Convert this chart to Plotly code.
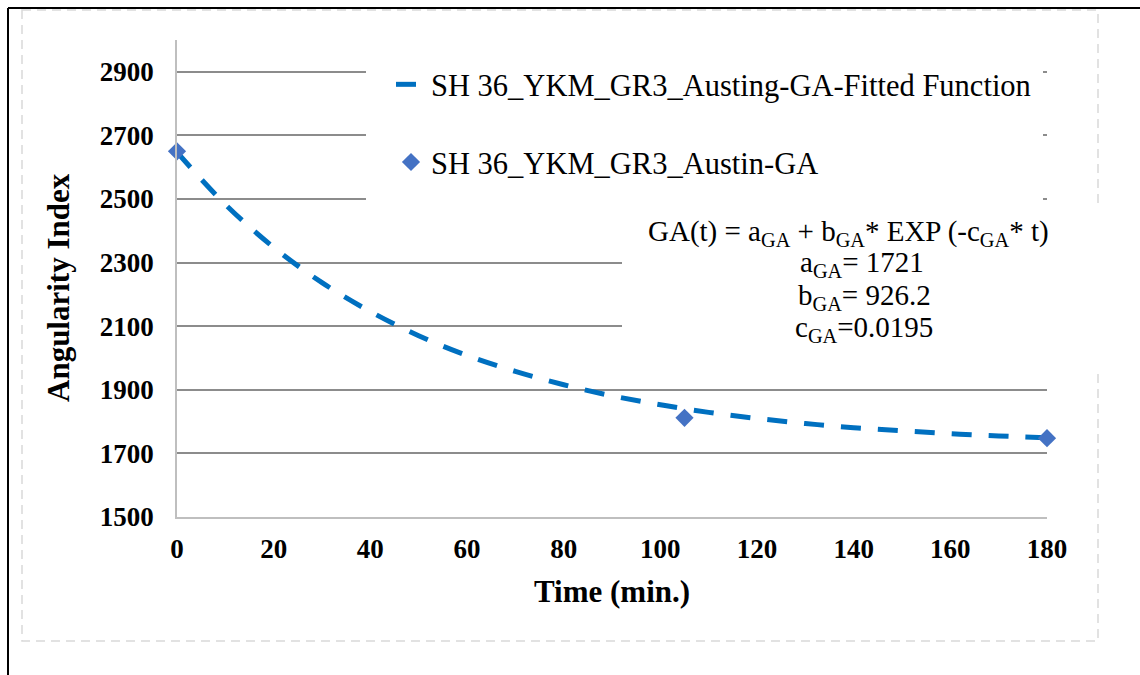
import plotly.graph_objects as go

# Measured angularity index (GA) of the aggregate sample
time_measured = [0, 105, 180]
ga_measured = [2650, 1812, 1748]

# Fitted decay curve GA(t) = a + b * exp(-c * t), sampled every 10 minutes
time_fitted = [0, 10, 20, 30, 40, 50, 60, 70, 80, 90, 100, 110, 120, 130, 140, 150, 160, 170, 180]
ga_fitted = [2647, 2483, 2348, 2237, 2146, 2070, 2008, 1958, 1916, 1881, 1853,
             1829, 1810, 1794, 1781, 1771, 1762, 1755, 1749]

x_ticks = [0, 20, 40, 60, 80, 100, 120, 140, 160, 180]
y_ticks = [1500, 1700, 1900, 2100, 2300, 2500, 2700, 2900]

fit_name = "SH 36_YKM_GR3_Austing-GA-Fitted Function"
meas_name = "SH 36_YKM_GR3_Austin-GA"
equation_lines = [
    "GA(t) = a<sub>GA</sub> + b<sub>GA</sub>* EXP (-c<sub>GA</sub>* t)",
    "a<sub>GA</sub>= 1721",
    "b<sub>GA</sub>= 926.2",
    "c<sub>GA</sub>=0.0195",
]
x_title = "Time (min.)"
y_title = "Angularity Index"

W, H = 1140, 675
ML, MR, MT, MB = 177, 93, 40, 158
PW, PH = W - ML - MR, H - MT - MB


def fx(p):
    """Pixel column -> paper x."""
    return (p - ML) / PW


def fy(p):
    """Pixel row -> paper y."""
    return (H - MB - p) / PH


SERIF = "Liberation Serif"

fig = go.Figure()
fig.add_trace(go.Scatter(
    x=time_fitted, y=ga_fitted, mode="lines", name=fit_name,
    legendgroup="fit",
    line=dict(color="#0070C0", width=5, dash="20px,17px", shape="spline"),
))
fig.add_trace(go.Scatter(
    x=time_measured, y=ga_measured, mode="markers", name=meas_name,
    legendgroup="meas",
    marker=dict(symbol="diamond", size=14, color="#4472C4"),
    cliponaxis=False,
))

shapes = [
    # outer black frame edges
    dict(type="line", xref="paper", yref="paper", x0=fx(8), x1=fx(8), y0=fy(8), y1=fy(675),
         line=dict(color="black", width=2)),
    dict(type="line", xref="paper", yref="paper", x0=fx(8), x1=fx(1140), y0=fy(8), y1=fy(8),
         line=dict(color="black", width=2)),
    # dashed chart-area border
    dict(type="rect", xref="paper", yref="paper", x0=fx(22), x1=fx(1098), y0=fy(10), y1=fy(641),
         line=dict(color="#d9d9d9", width=1.5, dash="9px,6px"), fillcolor="rgba(0,0,0,0)"),
    # white backgrounds behind legend and equation
    dict(type="rect", xref="paper", yref="paper", x0=fx(366), x1=fx(1043), y0=fy(38), y1=fy(205),
         line=dict(width=0), fillcolor="white"),
    dict(type="rect", xref="paper", yref="paper", x0=fx(622), x1=fx(1128), y0=fy(205), y1=fy(372),
         line=dict(width=0), fillcolor="white"),
]

# equation block, one annotation per line
eq_centers_x = [848, 862, 864, 864]
eq_centers_y = [233, 264, 297, 329]
annotations = [
    dict(text=txt, xref="paper", yref="paper", x=fx(cx), y=fy(cy),
         xanchor="center", yanchor="middle", showarrow=False,
         font=dict(family=SERIF, size=29, color="black"))
    for txt, cx, cy in zip(equation_lines, eq_centers_x, eq_centers_y)
]
# vertical axis title
annotations.append(dict(
    text=y_title, xref="paper", yref="paper", x=fx(58), y=fy(288),
    xanchor="center", yanchor="middle", textangle=-90, showarrow=False,
    font=dict(family=SERIF, size=31, color="black", weight="bold"),
))

fig.update_layout(
    width=W, height=H,
    margin=dict(l=ML, r=MR, t=MT, b=MB),
    paper_bgcolor="white", plot_bgcolor="white",
    font=dict(family=SERIF, color="black"),
    shapes=shapes,
    showlegend=True,
    legend=dict(
        x=fx(391), y=fy(58), xanchor="left", yanchor="top",
        bgcolor="rgba(0,0,0,0)", borderwidth=0,
        font=dict(family=SERIF, size=30.5, color="black"),
        tracegroupgap=35, traceorder="grouped",
    ),
    annotations=annotations,
)

fig.update_xaxes(
    range=[0, 180], tickvals=x_ticks, ticktext=[str(v) for v in x_ticks],
    showgrid=False, zeroline=False,
    showline=True, linecolor="#bfbfbf", linewidth=1.5,
    ticks="outside", ticklen=7, tickcolor="rgba(0,0,0,0)",
    tickfont=dict(family=SERIF, size=27, color="black", weight="bold"),
    title=dict(text=x_title, standoff=17,
               font=dict(family=SERIF, size=31, color="black", weight="bold")),
)
fig.update_yaxes(
    range=[1500, 3000], tickvals=y_ticks, ticktext=[str(v) for v in y_ticks],
    showgrid=True, gridcolor="#8c8c8c", gridwidth=1.5, zeroline=False,
    showline=True, linecolor="#bfbfbf", linewidth=1.5,
    ticks="outside", ticklen=16, tickcolor="rgba(0,0,0,0)",
    tickfont=dict(family=SERIF, size=27, color="black", weight="bold"),
)

fig.write_html("out.html")
